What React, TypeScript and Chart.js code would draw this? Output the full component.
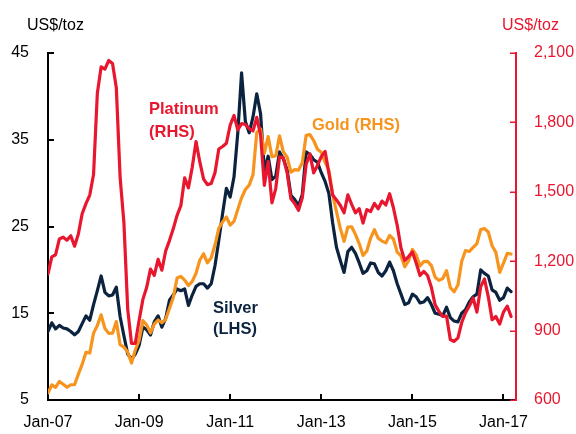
import React, { useEffect, useRef } from "react";
import { Chart, registerables } from "chart.js";

Chart.register(...registerables);

// Monthly data, Jan-07 .. Mar-17
const gold = [
  631, 665, 655, 680, 668, 655, 666, 666, 712, 754, 806, 803,
  889, 922, 968, 909, 888, 889, 939, 839, 829, 807, 760, 816,
  858, 943, 924, 890, 928, 946, 934, 949, 996, 1043, 1127, 1134,
  1118, 1095, 1113, 1148, 1205, 1232, 1193, 1215, 1271, 1342, 1370, 1391,
  1356, 1372, 1424, 1474, 1510, 1529, 1573, 1756, 1772, 1666, 1739, 1652,
  1656, 1742, 1673, 1650, 1585, 1596, 1594, 1626, 1744, 1747, 1721, 1684,
  1671, 1627, 1593, 1487, 1414, 1343, 1286, 1347, 1349, 1316, 1275, 1225,
  1244, 1300, 1336, 1299, 1287, 1279, 1311, 1296, 1239, 1223, 1176, 1202,
  1251, 1227, 1179, 1198, 1199, 1181, 1131, 1117, 1125, 1159, 1086, 1068,
  1097, 1200, 1246, 1242, 1260, 1276, 1337, 1341, 1326, 1267, 1238, 1152,
  1192, 1234, 1231,
];

const silver = [
  12.9, 13.9, 13.2, 13.6, 13.3, 13.2, 12.9, 12.5, 12.9, 13.8, 14.7, 14.2,
  16.0, 17.6, 19.3, 17.4, 17.0, 17.1, 18.0, 14.6, 12.4, 10.3, 9.7, 10.3,
  11.3, 13.4, 13.1, 12.5, 14.0, 14.7, 13.4, 14.4, 16.5, 17.1, 17.8, 17.6,
  17.8, 15.9, 17.1, 18.1, 18.4, 18.4, 17.9, 18.4, 20.5, 23.4, 26.5, 29.4,
  28.4, 30.7, 35.8, 42.7, 37.1, 35.8, 37.6, 40.3, 38.0, 31.4, 33.1, 30.4,
  30.8, 33.6, 32.8, 31.5, 28.6, 28.1, 27.4, 28.7, 33.6, 33.3, 32.7, 32.4,
  31.2, 30.2, 28.8, 25.4, 22.6, 21.1, 19.7, 22.1, 22.6, 21.9, 20.8, 19.6,
  19.9, 20.8, 20.7, 19.7, 19.3, 19.9, 20.9, 19.9, 18.4, 17.2, 16.0, 16.2,
  17.2, 16.9, 16.2, 16.3, 16.8, 16.0, 15.0, 14.9, 14.7, 15.7, 14.5, 14.1,
  14.0, 15.0, 15.4, 16.3, 16.9, 17.2, 20.0, 19.6, 19.3, 17.7, 17.4, 16.5,
  16.8, 17.9, 17.5,
];

const platinum = [
  1145, 1219, 1228, 1296, 1304, 1291, 1310, 1265, 1318, 1405, 1449, 1486,
  1575, 1926, 2040, 2030, 2068, 2055, 1950, 1562, 1367, 992, 845, 845,
  944, 1035, 1087, 1166, 1139, 1208, 1161, 1244, 1289, 1340, 1398, 1440,
  1560, 1517, 1606, 1717, 1629, 1555, 1531, 1536, 1583, 1685, 1696, 1710,
  1788, 1830, 1768, 1795, 1791, 1773, 1763, 1822, 1747, 1528, 1631, 1452,
  1514, 1651, 1648, 1582, 1470, 1449, 1420, 1474, 1618, 1664, 1582, 1614,
  1652, 1675, 1581, 1486, 1465, 1442, 1409, 1487, 1446, 1409, 1427, 1365,
  1423, 1415, 1450, 1426, 1460, 1443, 1492, 1431, 1355, 1257, 1203, 1220,
  1240, 1192, 1138, 1156, 1138, 1087, 1011, 983, 961, 963, 861, 853,
  869, 935, 977, 1006, 1041, 980, 1090, 1123, 1046, 947, 961, 928,
  980, 1006, 961,
];

const xTickMonths = [0, 24, 48, 72, 96, 120];
const xTickLabels = ["Jan-07", "Jan-09", "Jan-11", "Jan-13", "Jan-15", "Jan-17"];
const leftTicks = [5, 15, 25, 35, 45];
const rightTicks = [600, 900, 1200, 1500, 1800, 2100];

const RED = "#E8162E";
const ORANGE = "#F7941D";
const NAVY = "#0C2340";
const FONT = '"Liberation Sans", Arial, sans-serif';

const toPoints = (arr: number[]) => arr.map((v, i) => ({ x: i, y: v }));

const decorPlugin = {
  id: "decor",
  afterDraw(chart: any) {
    const ctx = chart.ctx;
    const { x, yL, yR } = chart.scales;
    const area = chart.chartArea;
    ctx.save();
    // inward tick marks
    ctx.lineCap = "butt";
    ctx.strokeStyle = "#000";
    ctx.lineWidth = 2;
    leftTicks.forEach((v) => {
      const py = Math.round(yL.getPixelForValue(v));
      ctx.beginPath();
      ctx.moveTo(area.left, py);
      ctx.lineTo(area.left + 6, py);
      ctx.stroke();
    });
    xTickMonths.forEach((v) => {
      if (v === 0) return;
      const px = Math.round(x.getPixelForValue(v));
      ctx.beginPath();
      ctx.moveTo(px, area.bottom);
      ctx.lineTo(px, area.bottom - 6);
      ctx.stroke();
    });
    ctx.strokeStyle = RED;
    ctx.lineWidth = 1.5;
    rightTicks.forEach((v) => {
      const py = Math.round(yR.getPixelForValue(v)) + 0.25;
      ctx.beginPath();
      ctx.moveTo(area.right, py);
      ctx.lineTo(area.right - 6, py);
      ctx.stroke();
    });
    // axis titles
    ctx.textBaseline = "alphabetic";
    ctx.textAlign = "left";
    ctx.font = `16px ${FONT}`;
    ctx.fillStyle = "#000";
    ctx.fillText("US$/toz", 27, 30);
    ctx.fillStyle = RED;
    ctx.fillText("US$/toz", 502, 30);
    // series labels
    ctx.font = `bold 16.5px ${FONT}`;
    ctx.fillStyle = RED;
    ctx.fillText("Platinum", 149, 114);
    ctx.fillText("(RHS)", 149, 137);
    ctx.fillStyle = ORANGE;
    ctx.fillText("Gold (RHS)", 312, 130);
    ctx.fillStyle = NAVY;
    ctx.fillText("Silver", 213, 313);
    ctx.fillText("(LHS)", 213, 334);
    ctx.restore();
  },
};

export default function App() {
  const ref = useRef<HTMLCanvasElement | null>(null);

  useEffect(() => {
    if (!ref.current) return;
    const lineDs = (label: string, data: number[], color: string, axis: string) => ({
      label,
      data: toPoints(data),
      borderColor: color,
      backgroundColor: color,
      borderWidth: 3.2,
      pointRadius: 0,
      tension: 0,
      borderJoinStyle: "round" as const,
      borderCapStyle: "round" as const,
      yAxisID: axis,
    });
    const chart = new Chart(ref.current, {
      type: "line",
      data: {
        datasets: [
          lineDs("Platinum", platinum, RED, "yR"),
          lineDs("Gold", gold, ORANGE, "yR"),
          lineDs("Silver", silver, NAVY, "yL"),
        ],
      },
      options: {
        animation: false,
        responsive: false,
        events: [],
        layout: { padding: { top: 53, left: 0, right: 0, bottom: 0 } },
        plugins: {
          legend: { display: false },
          tooltip: { enabled: false },
          title: { display: false },
        },
        scales: {
          x: {
            type: "linear",
            min: 0,
            max: 123.3,
            afterBuildTicks: (s: any) => {
              s.ticks = xTickMonths.map((v) => ({ value: v }));
            },
            afterFit: (s: any) => {
              s.height = 34;
            },
            grid: { display: true, drawOnChartArea: false, drawTicks: false },
            border: { display: true, color: "#000", width: 2 },
            ticks: {
              autoSkip: false,
              maxRotation: 0,
              padding: 13,
              color: "#000",
              font: { family: FONT, size: 16 },
              callback: (v: any) => {
                const i = xTickMonths.indexOf(Number(v));
                return i >= 0 ? xTickLabels[i] : "";
              },
            },
          },
          yL: {
            type: "linear",
            position: "left",
            min: 5,
            max: 45,
            afterBuildTicks: (s: any) => {
              s.ticks = leftTicks.map((v) => ({ value: v }));
            },
            afterFit: (s: any) => {
              s.width = 48;
            },
            grid: { display: true, drawOnChartArea: false, drawTicks: false },
            border: { display: true, color: "#000", width: 2 },
            ticks: {
              padding: 19,
              color: "#000",
              font: { family: FONT, size: 16 },
              callback: (v: any) => String(v),
            },
          },
          yR: {
            type: "linear",
            position: "right",
            min: 600,
            max: 2100,
            afterBuildTicks: (s: any) => {
              s.ticks = rightTicks.map((v) => ({ value: v }));
            },
            afterFit: (s: any) => {
              s.width = 60;
            },
            grid: { display: true, drawOnChartArea: false, drawTicks: false },
            border: { display: true, color: RED, width: 2 },
            ticks: {
              padding: 18,
              color: RED,
              font: { family: FONT, size: 16 },
              callback: (v: any) => Number(v).toLocaleString("en-US"),
            },
          },
        },
      },
      plugins: [decorPlugin],
    });
    return () => chart.destroy();
  }, []);

  return (
    <div style={{ position: "absolute", left: 0, top: 0, width: 576, height: 434, background: "#fff" }}>
      <canvas ref={ref} width={576} height={434} style={{ display: "block", width: 576, height: 434 }} />
    </div>
  );
}
